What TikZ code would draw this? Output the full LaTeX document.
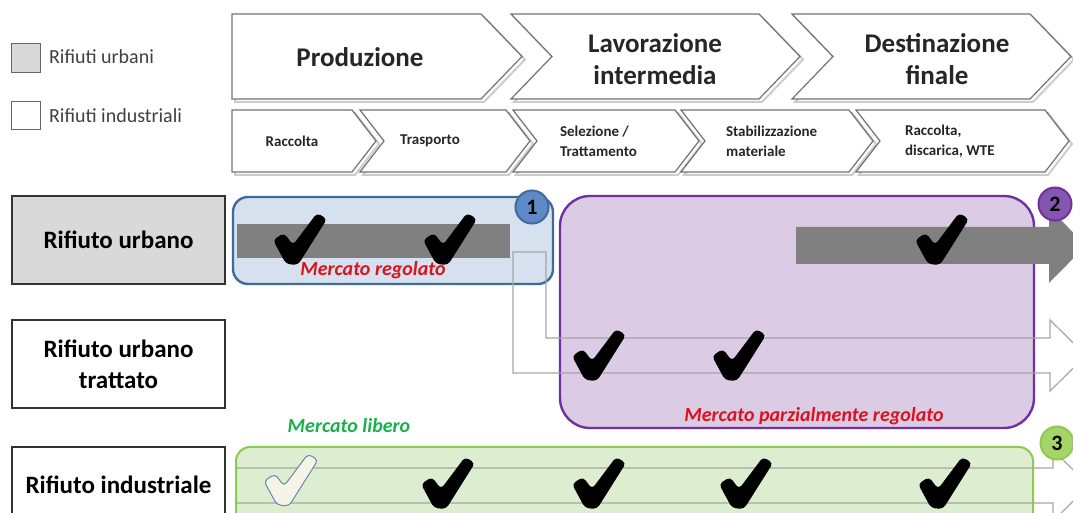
\documentclass[tikz,border=0pt]{standalone}
\usepackage{fontspec}
\setmainfont{Carlito}
\definecolor{grigioRU}{HTML}{D9D9D9}
\definecolor{bluFill}{HTML}{D6E0EF}
\definecolor{bluBordo}{HTML}{41699C}
\definecolor{bluCerchio}{HTML}{5E8BC7}
\definecolor{violaFill}{HTML}{DCCBE4}
\definecolor{violaBordo}{HTML}{7030A0}
\definecolor{violaCerchio}{HTML}{8456B0}
\definecolor{verdeFill}{HTML}{DDEDCF}
\definecolor{verdeBordo}{HTML}{8DCB4E}
\definecolor{verdeCerchio}{HTML}{A4D46A}
\definecolor{rossoTesto}{HTML}{D9141E}
\definecolor{verdeTesto}{HTML}{19B04B}
\definecolor{grigioBarra}{HTML}{808080}
\definecolor{grigioLinea}{HTML}{A6A6A6}
\definecolor{crema}{HTML}{F6F3E9}
\tikzset{
	fase/.style={font=\fontsize{13.5}{16}\selectfont\bfseries, align=center, text=black!85},
	sottofase/.style={font=\fontsize{7.5}{10}\selectfont\bfseries, align=left, text=black!85},
	chevron/.style={draw=black!55, fill=white, line width=0.6pt},
	ombra/.style={draw=black!20, line width=1pt},
	etichetta/.style={draw=black!80, line width=0.6pt, minimum width=106.5pt, minimum height=44pt, font=\fontsize{12.5}{15.5}\selectfont\bfseries, align=center},
	legenda/.style={anchor=west, font=\fontsize{10}{12}\selectfont, text=black!75},
	mercato/.style={font=\fontsize{10}{12}\selectfont\bfseries\itshape},
	numero/.style={circle, line width=1pt, minimum size=16.5pt, inner sep=0pt, font=\fontsize{11}{12}\selectfont\bfseries},
	spunta/.pic={\path[pic actions, rounded corners=2pt] (-27,0) -- (-16,-7) -- (-7,5) -- (17,-27) -- (27,-21) -- (-2,25) -- (-14,24) -- cycle;}
}

\begin{document}
\begin{tikzpicture}[x=0.5pt,y=-0.5pt]
	\useasboundingbox (0,0) rectangle (1073,513);
	% legenda
	\draw[fill=grigioRU, draw=black!60] (11,43) rectangle (40,72);
	\node[legenda] (leg-urb) at (42,57) {Rifiuti urbani};
	\draw[fill=white, draw=black!60] (11,101) rectangle (40,129);
	\node[legenda] (leg-ind) at (42,116) {Rifiuti industriali};
	% fasi
	\draw[ombra, xshift=1.5pt, yshift=-1.5pt] (232,14) -- (481,14) -- (522,56.5) -- (481,99) -- (232,99) -- cycle;
	\draw[chevron] (232,14) -- (481,14) -- (522,56.5) -- (481,99) -- (232,99) -- cycle;
	\foreach \l/\r in {511/759, 792/1030} {
		\draw[ombra, xshift=1.5pt, yshift=-1.5pt] (\l,14) -- (\r,14) -- (\r+41,56.5) -- (\r,99) -- (\l,99) -- (\l+41,56.5) -- cycle;
		\draw[chevron] (\l,14) -- (\r,14) -- (\r+41,56.5) -- (\r,99) -- (\l,99) -- (\l+41,56.5) -- cycle;
	}
	\node[fase] (produzione) at (360,57) {Produzione};
	\node[fase] (lavorazione) at (655,59) {Lavorazione\\intermedia};
	\node[fase] (destinazione) at (937,59) {Destinazione\\finale};
	% sottofasi
	\draw[ombra, xshift=1.5pt, yshift=-1.5pt] (232,110) -- (352,110) -- (376,141) -- (352,172) -- (232,172) -- cycle;
	\draw[chevron] (232,110) -- (352,110) -- (376,141) -- (352,172) -- (232,172) -- cycle;
	\foreach \l/\r in {360/506, 513/675, 681/849, 856/1045} {
		\draw[ombra, xshift=1.5pt, yshift=-1.5pt] (\l,110) -- (\r,110) -- (\r+24,141) -- (\r,172) -- (\l,172) -- (\l+24,141) -- cycle;
		\draw[chevron] (\l,110) -- (\r,110) -- (\r+24,141) -- (\r,172) -- (\l,172) -- (\l+24,141) -- cycle;
	}
	\node[sottofase] (raccolta) at (292,141) {Raccolta};
	\node[sottofase] (trasporto) at (430,141) {Trasporto};
	\node[sottofase, anchor=west] (selezione) at (553,141) {Selezione /\\Trattamento};
	\node[sottofase, anchor=west] (stabilizzazione) at (719,141) {Stabilizzazione\\materiale};
	\node[sottofase, anchor=west] (discarica) at (898,141) {Raccolta,\\discarica, WTE};
	% righe
	\node[etichetta, fill=grigioRU] (ru) at (118.5,240) {Rifiuto urbano};
	\node[etichetta, fill=white] (rut) at (118.5,364) {Rifiuto urbano\\trattato};
	\node[etichetta, fill=white, minimum height=38pt] (ri) at (118.5,485) {Rifiuto industriale};
	% mercati
	\draw[fill=verdeFill, draw=verdeBordo, line width=1pt, rounded corners=7pt] (236,447) rectangle (1033,530);
	\draw[fill=violaFill, draw=violaBordo, line width=1.2pt, rounded corners=15pt] (560,196) rectangle (1034,428);
	\draw[fill=bluFill, draw=bluBordo, line width=1.2pt, rounded corners=7.5pt] (233,197) rectangle (553,284);
	% flussi
	\fill[grigioBarra] (237,224) rectangle (510,258);
	\fill[grigioBarra] (796,227) -- (1049,227) -- (1049,208) -- (1086,245.5) -- (1049,283) -- (1049,264) -- (796,264) -- cycle;
	\draw[grigioLinea, line width=0.6pt] (513,252) -- (546,252) -- (546,338) -- (1050,338) -- (1050,320) -- (1086,355.5) -- (1050,391) -- (1050,373) -- (513,373) -- cycle;
	\draw[grigioLinea, line width=0.6pt] (236,468) -- (1053,468) -- (1053,450) -- (1089,485.5) -- (1053,521) -- (1053,503) -- (236,503);
	% spunte
	\pic[fill=black] at (300,240) {spunta};
	\pic[fill=black] at (450,240) {spunta};
	\pic[fill=black] at (942,240) {spunta};
	\pic[fill=black] at (599,356) {spunta};
	\pic[fill=black] at (739,356) {spunta};
	\pic[fill=crema, draw=bluBordo!80, line width=0.5pt] at (291,481) {spunta};
	\foreach \x in {448,599,746,945}
		\pic[fill=black] at (\x,484) {spunta};
	\node[mercato, text=rossoTesto] (regolato) at (373,270) {Mercato regolato};
	\node[mercato, text=rossoTesto] (parziale) at (814,416) {Mercato parzialmente regolato};
	\node[mercato, text=verdeTesto] (libero) at (349,426) {Mercato libero};
	% numeri
	\node[numero, fill=bluCerchio, draw=bluBordo] (n1) at (532,207) {1};
	\node[numero, fill=violaCerchio, draw=violaBordo] (n2) at (1055,204) {2};
	\node[numero, fill=verdeCerchio, draw=verdeBordo] (n3) at (1057,443) {3};
\end{tikzpicture}
\end{document}
